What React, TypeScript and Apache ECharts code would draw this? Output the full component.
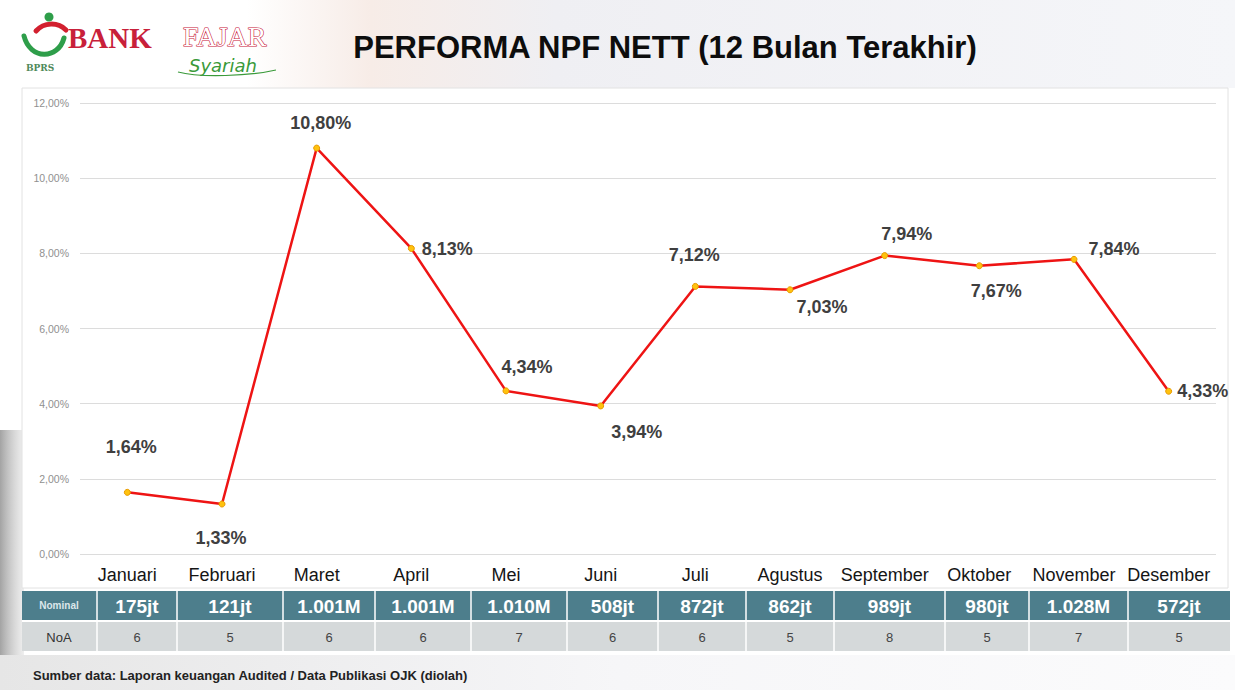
import React, { useEffect, useRef } from "react";
import * as echarts from "echarts";

const months = ["Januari", "Februari", "Maret", "April", "Mei", "Juni", "Juli", "Agustus", "September", "Oktober", "November", "Desember"];
const npfValues = [1.64, 1.33, 10.8, 8.13, 4.34, 3.94, 7.12, 7.03, 7.94, 7.67, 7.84, 4.33];
const nominalValues = ["175jt", "121jt", "1.001M", "1.001M", "1.010M", "508jt", "872jt", "862jt", "989jt", "980jt", "1.028M", "572jt"];
const noaValues = ["6", "5", "6", "6", "7", "6", "6", "5", "8", "5", "7", "5"];
const yTicks = { min: 0, max: 12, interval: 2 };

// layout only
const labelOffsets: [number, number][] = [
  [4, -45], [-1, 34], [4, -25], [36, 1], [21, -24], [36, 26],
  [-1, -31], [32, 17], [22, -22], [17, 25], [40, -10], [34, 0],
];
const colEdges = [97, 177, 283, 375, 471, 567, 658, 746, 834, 945, 1029, 1128, 1230];

const fmtPct = (v: number) => v.toFixed(2).replace(".", ",") + "%";

export default function App() {
  const ref = useRef<HTMLDivElement>(null);
  useEffect(() => {
    if (!ref.current) return;
    const chart = echarts.init(ref.current, null, { renderer: "svg" });
    const font = "'Liberation Sans', Arial, sans-serif";

    const graphics: any[] = [];
    // header gradient
    graphics.push({
      type: "rect", z: -10, shape: { x: 0, y: 0, width: 1235, height: 88 },
      style: {
        fill: new echarts.graphic.LinearGradient(0, 0, 1, 0, [
          { offset: 0, color: "#ffffff" },
          { offset: 0.2, color: "#ffffff" },
          { offset: 0.3, color: "#f7ece7" },
          { offset: 0.45, color: "#efeff3" },
          { offset: 1, color: "#f5f6f9" },
        ]),
      },
    });
    // left edge shading
    graphics.push({
      type: "rect", z: -10, shape: { x: 0, y: 430, width: 24, height: 260 },
      style: {
        fill: new echarts.graphic.LinearGradient(0, 0, 1, 0, [
          { offset: 0, color: "rgba(140,140,140,0.8)" },
          { offset: 1, color: "rgba(200,200,200,0.3)" },
        ]),
      },
    });
    graphics.push({
      type: "rect", z: -10, shape: { x: 0, y: 655, width: 1235, height: 35 },
      style: {
        fill: new echarts.graphic.LinearGradient(0, 0, 1, 0, [
          { offset: 0, color: "#e6e6e6" },
          { offset: 0.5, color: "#f6f6f8" },
          { offset: 1, color: "#fbfbfc" },
        ]),
      },
    });
    // chart frame
    graphics.push({
      type: "rect", z: -5, shape: { x: 22, y: 88, width: 1206, height: 500 },
      style: { fill: "#ffffff", stroke: "#e2e2e2", lineWidth: 1 },
    });

    // logo
    graphics.push({ type: "circle", shape: { cx: 49, cy: 17, r: 4.5 }, style: { fill: "#2e9e4a" } });
    graphics.push({
      type: "bezierCurve",
      shape: { x1: 36, y1: 31, cpx1: 44, cpy1: 22, cpx2: 58, cpy2: 22, x2: 66, y2: 30 },
      style: { stroke: "#d2202f", lineWidth: 5, fill: "none", lineCap: "round" },
    });
    graphics.push({
      type: "bezierCurve",
      shape: { x1: 24, y1: 36, cpx1: 30, cpy1: 60, cpx2: 58, cpy2: 60, x2: 64, y2: 38 },
      style: { stroke: "#2e9e4a", lineWidth: 5, fill: "none", lineCap: "round" },
    });
    graphics.push({
      type: "text", x: 26, y: 63,
      style: { text: "BPRS", font: "bold 9px 'DejaVu Serif', serif", fill: "#4f8a5a" },
    });
    graphics.push({
      type: "text", x: 68, y: 38,
      style: { text: "BANK", font: "bold 29px 'Liberation Serif', serif", fill: "#c8203a", verticalAlign: "middle" },
    });
    graphics.push({
      type: "text", x: 183, y: 36,
      style: { text: "FAJAR", font: "28px 'Liberation Serif', serif", fill: "#ffffff", stroke: "#c8203a", lineWidth: 1.2, verticalAlign: "middle" },
    });
    graphics.push({
      type: "text", x: 189, y: 65,
      style: { text: "Syariah", font: "italic 18px 'DejaVu Sans', sans-serif", fill: "#3a9a3a", verticalAlign: "middle" },
    });
    graphics.push({
      type: "bezierCurve",
      shape: { x1: 178, y1: 72, cpx1: 200, cpy1: 78, cpx2: 250, cpy2: 76, x2: 276, y2: 70 },
      style: { stroke: "#3a9a3a", lineWidth: 1.2, fill: "none" },
    });

    // title
    graphics.push({
      type: "text", x: 665, y: 47,
      style: {
        text: "PERFORMA NPF NETT (12 Bulan Terakhir)", font: `bold 31px ${font}`,
        fill: "#0d0d0d", align: "center", verticalAlign: "middle",
      },
    });

    // table
    graphics.push({ type: "rect", shape: { x: 22, y: 591, width: 1208, height: 29 }, style: { fill: "#4d7e8c" } });
    graphics.push({ type: "rect", shape: { x: 22, y: 622, width: 1208, height: 29 }, style: { fill: "#d5d9da" } });
    graphics.push({
      type: "text", x: 59, y: 605,
      style: { text: "Nominal", font: `bold 10px ${font}`, fill: "#dce7ea", align: "center", verticalAlign: "middle" },
    });
    graphics.push({
      type: "text", x: 59, y: 637,
      style: { text: "NoA", font: `13px ${font}`, fill: "#333333", align: "center", verticalAlign: "middle" },
    });
    for (let i = 0; i < months.length; i++) {
      const x = colEdges[i];
      graphics.push({
        type: "line", shape: { x1: x, y1: 591, x2: x, y2: 651 },
        style: { stroke: "#ffffff", lineWidth: 1.5 },
      });
    }
    months.forEach((_, i) => {
      const cx = (colEdges[i] + colEdges[i + 1]) / 2;
      graphics.push({
        type: "text", x: cx, y: 606,
        style: { text: nominalValues[i], font: `bold 19px ${font}`, fill: "#ffffff", align: "center", verticalAlign: "middle" },
      });
      graphics.push({
        type: "text", x: cx, y: 637,
        style: { text: noaValues[i], font: `13px ${font}`, fill: "#444444", align: "center", verticalAlign: "middle" },
      });
    });
    graphics.push({
      type: "line", shape: { x1: 22, y1: 621, x2: 1230, y2: 621 },
      style: { stroke: "#ffffff", lineWidth: 2 },
    });

    // footer
    graphics.push({
      type: "text", x: 33, y: 675,
      style: {
        text: "Sumber data: Laporan keuangan Audited / Data Publikasi OJK (diolah)",
        font: `bold 13px ${font}`, fill: "#222222", verticalAlign: "middle",
      },
    });

    chart.setOption({
      animation: false,
      backgroundColor: "#ffffff",
      grid: { left: 80, right: 19, top: 103, bottom: 136 },
      xAxis: {
        type: "category",
        data: months,
        boundaryGap: true,
        axisLine: { show: false },
        axisTick: { show: false },
        axisLabel: { margin: 12, fontSize: 18, color: "#151515", fontFamily: font, interval: 0 },
      },
      yAxis: {
        type: "value",
        min: yTicks.min,
        max: yTicks.max,
        interval: yTicks.interval,
        axisLine: { show: false },
        axisTick: { show: false },
        axisLabel: { formatter: (v: number) => fmtPct(v), fontSize: 10.5, color: "#909090", margin: 11, fontFamily: font },
        splitLine: { lineStyle: { color: "#dcdcdc", width: 1 } },
      },
      graphic: { elements: graphics },
      series: [
        {
          type: "line",
          data: npfValues.map((v, i) => ({
            value: v,
            label: { offset: labelOffsets[i] },
          })),
          lineStyle: { color: "#ee1414", width: 2.5 },
          itemStyle: { color: "#ffc20e", borderColor: "#e89a00", borderWidth: 1 },
          symbol: "circle",
          symbolSize: 6,
          label: {
            show: true,
            position: "inside",
            align: "center",
            verticalAlign: "middle",
            formatter: (p: any) => fmtPct(p.value),
            fontSize: 18,
            fontWeight: "bold",
            color: "#3f3f3f",
            fontFamily: font,
          },
          z: 5,
        },
      ],
    });
    return () => chart.dispose();
  }, []);
  return <div ref={ref} style={{ position: "fixed", left: 0, top: 0, width: 1235, height: 690 }} />;
}
